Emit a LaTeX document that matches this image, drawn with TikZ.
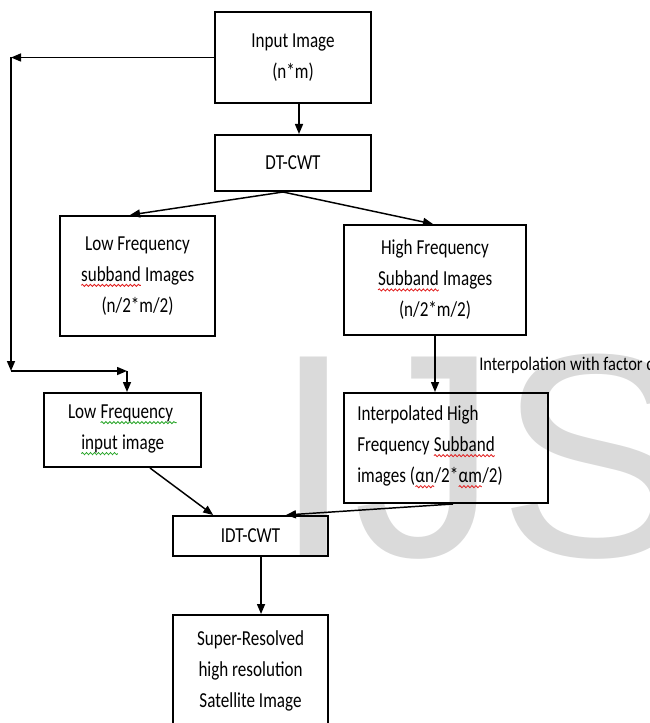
\documentclass[tikz,border=0pt]{standalone}
\usepackage{fontspec}
\setmainfont{Carlito}
\newfontfamily\boxfont[FakeStretch=0.8]{Carlito}
\newfontfamily\lblfont[FakeStretch=0.85]{Carlito}
\newfontfamily\wmfont{Liberation Sans}
\usetikzlibrary{arrows.meta,calc,decorations.pathmorphing}
\definecolor{wmgray}{RGB}{218,218,218}
\definecolor{spellred}{RGB}{225,30,30}
\definecolor{spellgreen}{RGB}{40,165,40}
\newcommand\wv[2]{\tikz[baseline=(w.base)]{\node[draw=none,fill=none,inner sep=0pt,outer sep=0pt,minimum width=0pt,minimum height=0pt,align=left] (w) {#2};\draw[#1,line width=0.6pt,decorate,decoration={snake,amplitude=0.8pt,segment length=3pt}] ([yshift=-3pt]w.base west) -- ([yshift=-3pt]w.base east);}}
\begin{document}
\begin{tikzpicture}[x=0.75pt,y=-0.75pt,
  box/.style={draw,line width=1.5pt,inner sep=0pt,align=center,text=black,
    font=\boxfont\fontsize{16}{23.25}\selectfont},
  boxtext/.style={inner sep=0pt,align=left,text=black,
    font=\boxfont\fontsize{16}{23.25}\selectfont},
  arr/.style={line width=1.1pt,-{Triangle[length=7.5pt,width=6pt]}}]
\useasboundingbox (0,0) rectangle (649,723);
\clip (0,0) rectangle (649,723);
% watermark
\node[anchor=base west,inner sep=0pt,text=wmgray,
  font=\wmfont\fontsize{217.5}{217.5}\selectfont] (wmk) at (273,556) {IJS};
% boxes
\node[box,minimum width=117pt,minimum height=68.25pt] (in) at (293,57.5) {Input Image\\(n*m)};
\node[box,minimum width=117pt,minimum height=42pt] (dt) at (293,163) {DT-CWT};
\node[box,minimum width=116.25pt,minimum height=90pt] (lfs) at (137.5,276)
  {Low Frequency\\\wv{spellred}{subband} Images\\(n/2*m/2)};
\node[box,minimum width=136.5pt,minimum height=82.5pt] (hfs) at (435,280)
  {High Frequency\\\wv{spellred}{Subband} Images\\(n/2*m/2)};
\node[box,minimum width=117.75pt,minimum height=55.5pt] (lfi) at (122.5,430)
  {Low \wv{spellgreen}{Frequency\,}\\\wv{spellgreen}{input} image};
\node[box,minimum width=153pt,minimum height=82.5pt] (ihf) at (446,448) {};
\node[boxtext,anchor=west] (ihft) at (357,447)
  {Interpolated High\\Frequency \wv{spellred}{Subband}\\images (\wv{spellred}{αn}/2*\wv{spellred}{αm}/2)};
\node[box,minimum width=116.25pt,minimum height=30pt] (idt) at (250.5,536) {IDT-CWT};
\node[box,minimum width=116.25pt,minimum height=84pt] (sr) at (250.5,671)
  {Super-Resolved\\high resolution\\Satellite Image};
% label
\node[anchor=west,inner sep=0pt,text=black,font=\lblfont\fontsize{14.5}{16}\selectfont] (lbl) at (479,365)
  {Interpolation with factor α};
% connectors
\coordinate (c1) at (11,57.5);
\coordinate (c2) at (11,371);
\coordinate (c3) at (127,371);
\draw[arr] ([xshift=4.5pt]in.south) -- ([xshift=4.5pt]dt.north);
\draw[arr] (in.west) -- (c1);
\draw[arr] (c1) -- (c2);
\draw[arr] (c2) -- (c3);
\draw[arr] (c3) -- (c3 |- lfi.north);
\draw[arr] ([xshift=-7.5pt]dt.south) -- ([xshift=-5.6pt]lfs.north);
\draw[arr] ([xshift=-7.5pt]dt.south) -- ([xshift=-1.5pt]hfs.north);
\draw[arr] (hfs.south) -- (hfs.south |- ihf.north);
\draw[arr] ([xshift=20.6pt]lfi.south) -- ([xshift=-28pt]idt.north);
\draw[arr] ([xshift=5.25pt]ihf.south) -- ([xshift=26.6pt]idt.north);
\draw[arr] ([xshift=7.9pt]idt.south) -- ([xshift=7.9pt]sr.north);
\end{tikzpicture}
\end{document}
